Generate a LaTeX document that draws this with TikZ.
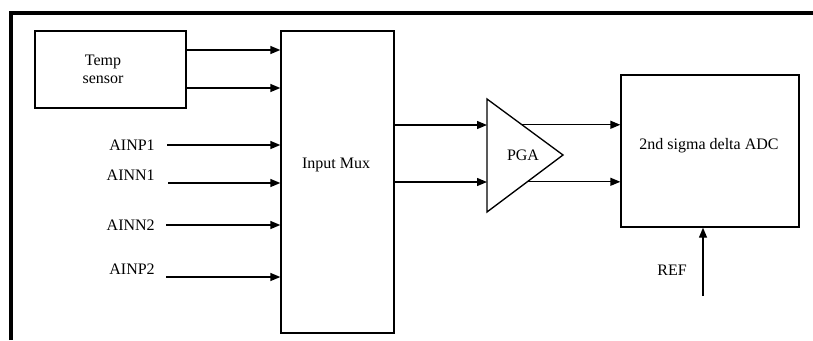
\documentclass[tikz,border=0pt]{standalone}
\usepackage{fontspec}
\setmainfont{Liberation Serif}
\usetikzlibrary{arrows.meta, positioning, calc}
\tikzset{
  block/.style={draw=black, line width=1pt, inner sep=0pt},
  sigline/.style={line width=1pt, -{Triangle[length=7.5pt, width=6pt]}},
  txt/.style={inner sep=0pt, font=\fontsize{12}{14}\selectfont},
  frameline/.style={line width=2.6pt},
}

\begin{document}
\begin{tikzpicture}[x=0.75pt, y=-0.75pt]
    \useasboundingbox (0,0) rectangle (813,340);
    %% outer frame: only top and left edge show
    \draw[frameline] (11,340) -- (11,13) -- (813,13);
    %% blocks
    \node[block, minimum width=113.25pt, minimum height=57.75pt] (temp) at (110.5,69.5) {};
    \node[txt, align=center] (templbl) at (103,69.5) {Temp\\sensor};
    \node[block, minimum width=84.75pt, minimum height=226.5pt] (mux) at (337.5,182) {};
    \node[txt] (muxlbl) at (336,165) {Input Mux};
    \node[block, minimum width=133.5pt, minimum height=114pt] (adc) at (710,151) {};
    \node[txt] (adclbl) at (709,146) {2nd sigma delta ADC};
    %% PGA triangle
    \coordinate (pgaA) at (487,99);
    \coordinate (pgaB) at (487,212);
    \coordinate (pgaC) at (563,155);
    \draw[line width=1pt] (pgaA) -- (pgaC) -- (pgaB) -- cycle;
    \node[txt] (pgalbl) at (523,155) {PGA};
    %% signal rows
    \coordinate (ts1) at (0,50);
    \coordinate (ts2) at (0,88);
    \coordinate (r1) at (0,125);
    \coordinate (r2) at (0,182);
    \coordinate (inp1) at (167,145);
    \coordinate (inn1) at (168,183);
    \coordinate (inn2) at (166,225);
    \coordinate (inp2) at (166,277);
    \coordinate (refsrc) at (703,296);
    %% analog inputs
    \node[txt, left=9pt of inp1] (ainp1) {AINP1};
    \node[txt, left=9.75pt of inn1, yshift=6pt] (ainn1) {AINN1};
    \node[txt, left=8.25pt of inn2] (ainn2) {AINN2};
    \node[txt, left=8.25pt of inp2, yshift=6pt] (ainp2) {AINP2};
    \draw[sigline] (inp1) -- (inp1 -| mux.west);
    \draw[sigline] (inn1) -- (inn1 -| mux.west);
    \draw[sigline] (inn2) -- (inn2 -| mux.west);
    \draw[sigline] (inp2) -- (inp2 -| mux.west);
    %% temp sensor into mux
    \draw[sigline] (temp.east |- ts1) -- (mux.west |- ts1);
    \draw[sigline] (temp.east |- ts2) -- (mux.west |- ts2);
    %% mux -> PGA -> ADC
    \draw[sigline] (mux.east |- r1) -- (pgaA |- r1);
    \draw[sigline] (mux.east |- r2) -- (pgaA |- r2);
    \coordinate (pgaout1) at ($(pgaA)!0.46!(pgaC)$);
    \coordinate (pgaout2) at ($(pgaB)!0.53!(pgaC)$);
    \draw[sigline] (pgaout1) -- (adc.west |- pgaout1);
    \draw[sigline] (pgaout2) -- (adc.west |- pgaout2);
    %% reference
    \node[txt] (reflbl) at (672,270) {REF};
    \draw[sigline] (refsrc) -- (refsrc |- adc.south);
\end{tikzpicture}
\end{document}
